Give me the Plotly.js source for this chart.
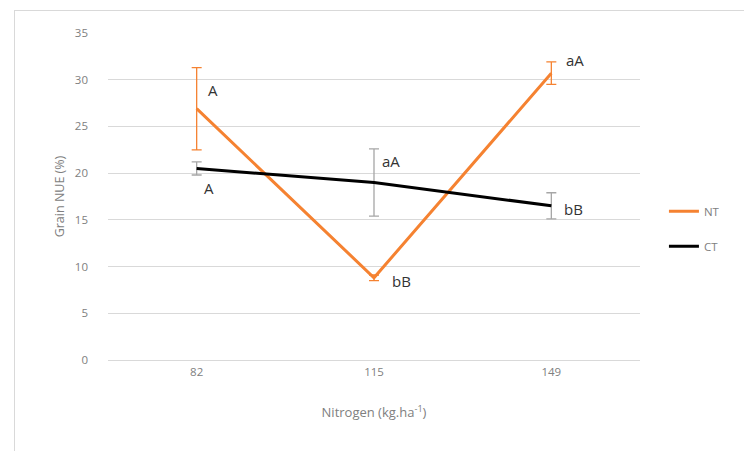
<!DOCTYPE html>
<html>
<head>
<meta charset="utf-8">
<script src="https://cdn.plot.ly/plotly-3.0.1.min.js"></script>
<style>
html,body{margin:0;padding:0;background:#fff;}
#wrap{position:relative;width:744px;height:451px;}
#chart{position:absolute;left:0;top:0;width:744px;height:451px;}
#frame{position:absolute;left:14px;top:10px;width:740px;height:450px;border:1px solid #d9d9d9;pointer-events:none;box-sizing:border-box;}
</style>
</head>
<body>
<div id="wrap"><div id="chart"></div><div id="frame"></div></div>
<script>
const categories = ['82', '115', '149'];
const ntValues = [26.9, 8.8, 30.7];
const ntErrors = [4.4, 0.3, 1.2];
const ctValues = [20.5, 19.0, 16.5];
const ctErrors = [0.7, 3.6, 1.4];
const ntLabels = ['A', 'bB', 'aA'];
const ctLabels = ['A', 'aA', 'bB'];
const yTicks = [0, 5, 10, 15, 20, 25, 30, 35];

const orange = '#F58231';
const font = 'Open Sans, Liberation Sans, Arial, sans-serif';

const traces = [
  {
    x: categories, y: ntValues, name: 'NT', type: 'scatter', mode: 'lines',
    line: {color: orange, width: 3},
    error_y: {type: 'data', array: ntErrors, visible: true, color: orange, thickness: 1.3, width: 5},
    legend: 'legend'
  },
  {
    x: categories, y: ctValues, name: 'CT', type: 'scatter', mode: 'lines',
    line: {color: '#000000', width: 3},
    error_y: {type: 'data', array: ctErrors, visible: true, color: '#a6a6a6', thickness: 1.3, width: 5},
    legend: 'legend2'
  }
];

// label offsets (pixels) per point
const ntShift = [[16, 19], [27, -3], [24, 13]];
const ctShift = [[12, -20], [17, 21], [22, -3]];
const annotations = [];
categories.forEach((c, i) => {
  annotations.push({xref: 'x', yref: 'y', x: i, y: ntValues[i], text: ntLabels[i], showarrow: false,
    xshift: ntShift[i][0], yshift: ntShift[i][1], font: {family: font, size: 15, color: '#333333'}});
  annotations.push({xref: 'x', yref: 'y', x: i, y: ctValues[i], text: ctLabels[i], showarrow: false,
    xshift: ctShift[i][0], yshift: ctShift[i][1], font: {family: font, size: 15, color: '#333333'}});
});

const layout = {
  width: 744, height: 451,
  margin: {l: 108, r: 104, t: 33, b: 91},
  paper_bgcolor: 'rgba(0,0,0,0)', plot_bgcolor: '#ffffff',
  font: {family: font, color: '#808080', size: 11},
  xaxis: {
    type: 'category', range: [-0.5, 2.5], showgrid: false, zeroline: false,
    showline: false, ticks: '', ticklabelstandoff: 3, tickfont: {size: 11.5, color: '#808080'},
    title: {text: 'Nitrogen (kg.ha<sup>-1</sup>)', font: {size: 13, color: '#808080'}, standoff: 30}
  },
  yaxis: {
    range: [0, 35], tickvals: yTicks, showgrid: true, gridcolor: '#d9d9d9', gridwidth: 1,
    zeroline: true, zerolinecolor: '#d9d9d9', zerolinewidth: 1, showline: false, ticks: '',
    ticklabelstandoff: 19, tickfont: {size: 11.5, color: '#808080'},
    title: {text: 'Grain NUE (%)', font: {size: 12.5, color: '#808080'}, standoff: 7}
  },
  showlegend: true,
  legend: {x: 1.045, y: 0.455, xanchor: 'left', yanchor: 'middle', bgcolor: 'rgba(0,0,0,0)',
    font: {size: 11.5, color: '#808080'}},
  legend2: {x: 1.045, y: 0.348, xanchor: 'left', yanchor: 'middle', bgcolor: 'rgba(0,0,0,0)',
    font: {size: 11.5, color: '#808080'}},
  annotations: annotations
};

Plotly.newPlot('chart', traces, layout, {displayModeBar: false, staticPlot: true});
</script>
</body>
</html>
